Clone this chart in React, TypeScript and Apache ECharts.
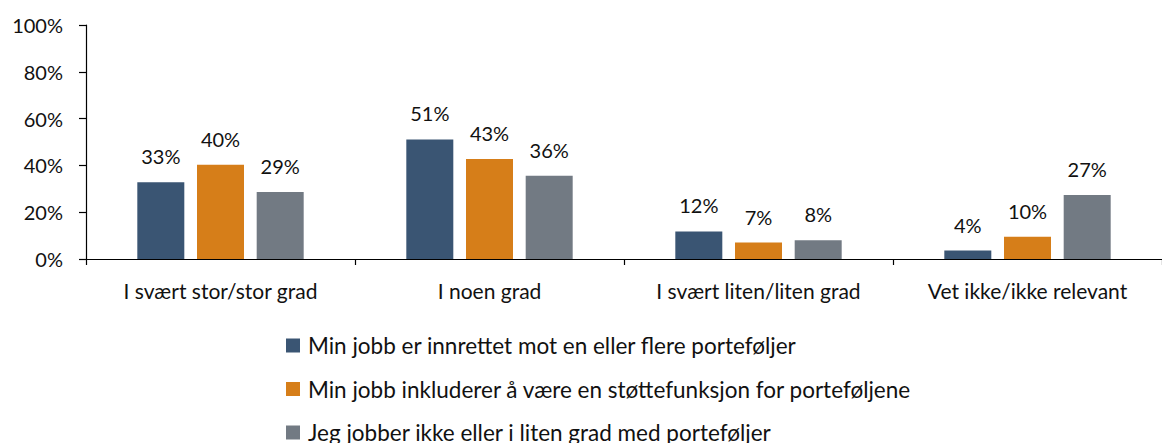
import React, { useEffect, useRef } from "react";
import * as echarts from "echarts";

const categories = [
  "I svært stor/stor grad",
  "I noen grad",
  "I svært liten/liten grad",
  "Vet ikke/ikke relevant",
];
const seriesNames = [
  "Min jobb er innrettet mot en eller flere porteføljer",
  "Min jobb inkluderer å være en støttefunksjon for porteføljene",
  "Jeg jobber ikke eller i liten grad med porteføljer",
];
const valuesA = [32.8, 51.1, 11.8, 3.6];
const valuesB = [40.3, 42.7, 7.0, 9.5];
const valuesC = [28.6, 35.6, 8.0, 27.3];
const colors = ["#3A5573", "#D67E19", "#727A83"];
const yTicks = [0, 20, 40, 60, 80, 100];

const FONT = "Lato, 'Open Sans', sans-serif";
const legendCenters = [345.5, 389, 432.5];

export default function App() {
  const ref = useRef<HTMLDivElement>(null);
  useEffect(() => {
    if (!ref.current) return;
    const chart = echarts.init(ref.current, null, { renderer: "svg" });
    const seriesData = [valuesA, valuesB, valuesC];
    chart.setOption({
      animation: false,
      textStyle: { fontFamily: FONT },
      grid: { left: 86, top: 25, width: 1086, height: 234, containLabel: false },
      xAxis: {
        type: "category",
        data: categories,
        axisLine: { show: true, lineStyle: { color: "#000", width: 1.2 } },
        axisTick: { show: true, length: 6, lineStyle: { color: "#000", width: 1.2 } },
        axisLabel: {
          color: "#111",
          fontSize: 21,
          fontFamily: FONT,
          margin: 21,
          interval: 0,
          hideOverlap: false,
        },
      },
      yAxis: {
        type: "value",
        min: yTicks[0],
        max: yTicks[yTicks.length - 1],
        interval: 20,
        axisLine: { show: true, lineStyle: { color: "#000", width: 1.2 } },
        axisTick: { show: true, length: 7, lineStyle: { color: "#000", width: 1.2 } },
        splitLine: { show: false },
        axisLabel: {
          color: "#111",
          fontSize: 20,
          fontFamily: FONT,
          margin: 23,
          formatter: (v: number) => v + "%",
        },
      },
      legend: seriesNames.map((name, i) => ({
        orient: "vertical",
        left: 286,
        top: legendCenters[i] - 12,
        padding: 0,
        itemWidth: 14,
        itemHeight: 14,
        itemGap: 6,
        icon: "rect",
        textStyle: {
          color: "#111",
          fontSize: 22.5,
          lineHeight: 24,
          fontFamily: FONT,
          padding: [0, 0, 0, 3],
        },
        data: [name],
      })),
      series: seriesData.map((vals, i) => ({
        type: "bar",
        name: seriesNames[i],
        data: vals,
        barWidth: 47,
        barGap: "27%",
        itemStyle: { color: colors[i] },
        label: {
          show: true,
          position: "top",
          distance: 16,
          color: "#111",
          fontSize: 20,
          fontFamily: FONT,
          formatter: (p: any) => Math.round(p.value) + "%",
        },
      })),
    });
    return () => chart.dispose();
  }, []);
  return (
    <div
      ref={ref}
      style={{ position: "fixed", left: 0, top: 0, width: 1162, height: 443, background: "#fff" }}
    />
  );
}
